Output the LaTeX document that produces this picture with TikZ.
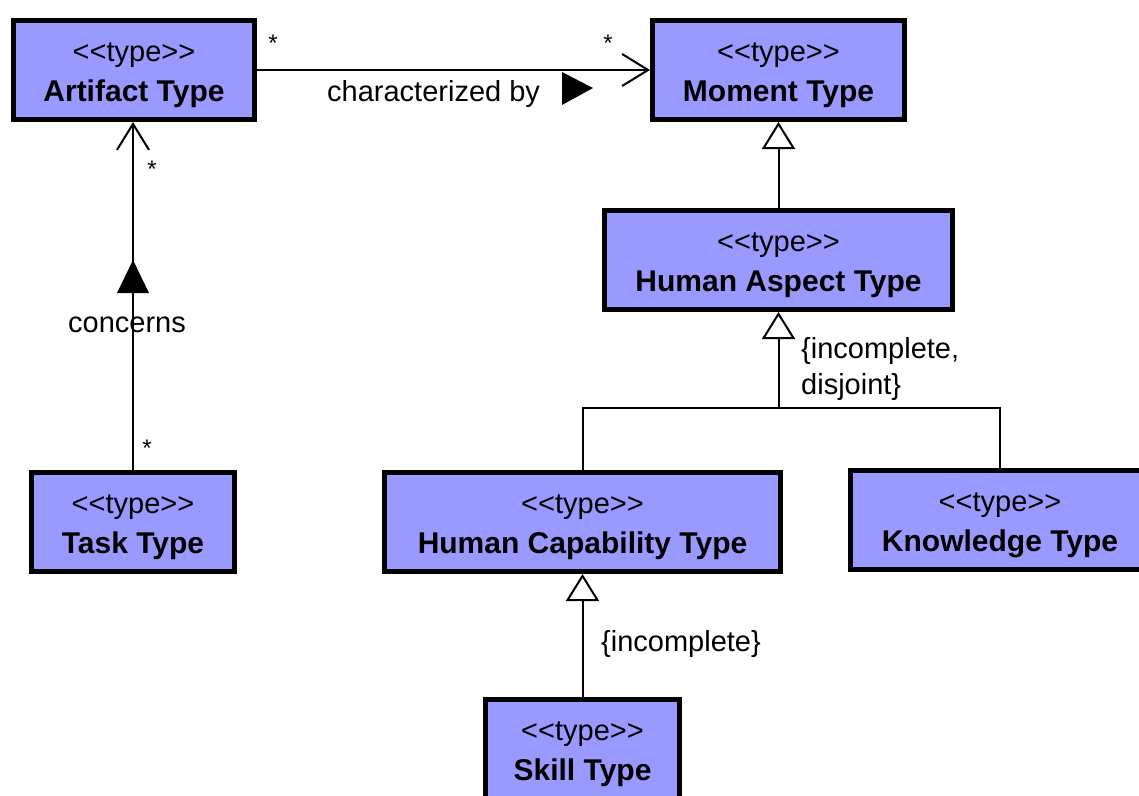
\documentclass[tikz,border=0pt]{standalone}
\usepackage{fontspec}
\setmainfont{Liberation Sans}[Ligatures=TeXOff]
\usetikzlibrary{arrows.meta}
\definecolor{boxfill}{RGB}{153,153,255}
\newcommand\stereo[1]{\rule{0pt}{30pt}{\fontsize{29}{40}\selectfont <<type>>}\\\textbf{#1}}
\begin{document}
\begin{tikzpicture}[x=1pt,y=-1pt,
  typebox/.style={draw=black, line width=5pt, fill=boxfill, rectangle, inner sep=0pt,
    minimum height=99pt, align=center, font=\fontsize{30}{40}\selectfont},
  link/.style={line width=2pt, draw=black},
  assoc/.style={link, -{Straight Barb[length=26pt, width=32pt, line width=2pt]}},
  gen/.style={link, -{Triangle[open, fill=white, length=27pt, width=33pt, line width=2pt]}},
  lbl/.style={font=\fontsize{29}{36}\selectfont, inner sep=0pt},
  mult/.style={font=\fontsize{24}{24}\selectfont, inner sep=0pt, anchor=base},
  dirmark/.style={fill=black},
]
\useasboundingbox (0,0) rectangle (1139,795);

% classes
\node[typebox, minimum width=241pt] (art)  at (134,70)    {\stereo{Artifact Type}};
\node[typebox, minimum width=252pt] (mom)  at (778.5,70)  {\stereo{Moment Type}};
\node[typebox, minimum width=348pt] (ha)   at (778.5,260) {\stereo{Human Aspect Type}};
\node[typebox, minimum width=203pt] (task) at (133,522)   {\stereo{Task Type}};
\node[typebox, minimum width=396pt] (hc)   at (582.5,522) {\stereo{Human Capability Type}};
\node[typebox, minimum width=299pt] (kn)   at (1000,520)  {\stereo{Knowledge Type}};
\node[typebox, minimum width=194pt] (sk)   at (582.5,749) {\stereo{Skill Type}};

% association: characterized by
\draw[assoc] (art.east) -- (mom.west);
\node[mult] (m1) at (273,51) {*};
\node[mult] (m2) at (608,51) {*};
\node[lbl, anchor=base west] (cb) at (327,101) {characterized by};
\fill[dirmark] (562,72) -- (562,105) -- (593,88) -- cycle;

% association: concerns
\draw[assoc] (task.north) -- (task.north |- art.south);
\node[mult] (m3) at (152,177) {*};
\node[mult] (m4) at (147,456) {*};
\node[lbl, anchor=base west] (cn) at (68,332) {concerns};
\fill[dirmark] (117,293) -- (149,293) -- (133,260) -- cycle;

% generalizations
\draw[gen] (ha.north) -- (mom.south);
\coordinate (bus) at (778.5,408);
\draw[link] (hc.north) |- (bus) -| (kn.north);
\draw[gen] (bus) -- (ha.south);
\node[lbl, anchor=north west, align=left] (gs1) at (801,337) {\{incomplete,\\disjoint\}};
\draw[gen] (sk.north) -- (hc.south);
\node[lbl, anchor=base west] (gs2) at (601,651) {\{incomplete\}};
\end{tikzpicture}
\end{document}
